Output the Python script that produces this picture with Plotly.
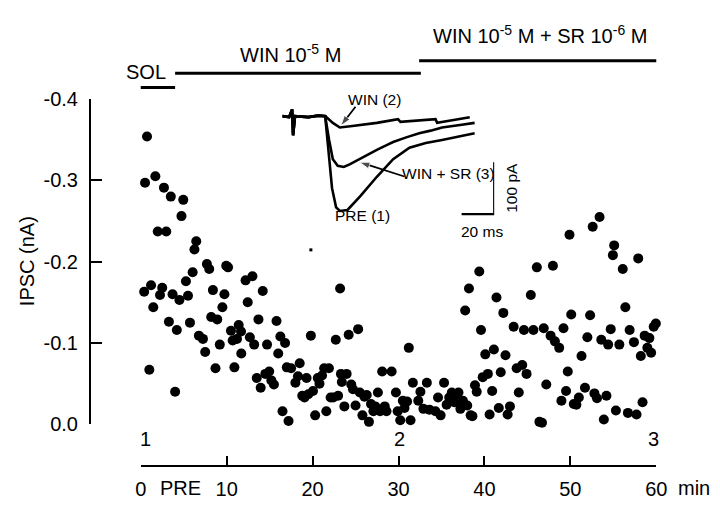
import plotly.graph_objects as go

# ---------------- data ----------------
time_min = [0.4,0.5,0.73,1.0,1.2,1.46,1.7,1.98,2.24,2.5,2.7,2.97,3.28,3.5,3.7,4.0,4.2,4.5,4.74,4.95,
            5.26,5.5,5.73,6.04,6.25,6.46,6.77,7.24,7.5,7.7,7.97,8.2,8.4,8.7,8.9,9.2,9.5,9.74,9.95,10.16,
            10.5,10.7,10.9,11.2,11.4,11.67,11.7,12.2,12.45,12.7,13.0,13.2,13.5,13.7,13.96,14.2,14.5,14.7,14.95,15.2,
            15.5,15.8,16.0,16.25,16.5,16.8,17.0,17.2,17.5,18.0,18.3,18.5,18.8,19.06,19.3,19.5,19.8,20.05,20.3,20.6,
            20.8,21.1,21.35,21.6,21.9,22.1,22.4,22.7,22.97,23.2,23.3,23.4,23.7,23.96,24.2,24.5,24.7,25.0,25.3,25.5,
            25.8,26.04,26.3,26.56,26.8,27.08,27.3,27.6,27.86,28.1,28.4,28.6,29.2,29.7,29.9,30.2,30.5,30.7,31.0,31.2,
            31.4,31.67,32.3,32.55,32.9,33.3,33.6,34.3,34.6,34.9,35.3,35.6,35.9,36.2,36.5,36.7,36.98,37.2,37.5,37.76,
            38.0,38.2,38.4,38.6,38.9,39.1,39.4,39.6,39.8,40.1,40.4,40.6,40.9,41.1,41.4,41.67,41.9,42.2,42.45,42.7,
            42.97,43.4,43.75,44.0,44.4,44.6,44.9,45.4,45.7,46.1,46.4,46.7,46.9,47.2,47.7,47.97,48.2,48.7,48.96,49.2,
            49.5,49.7,49.9,50.1,50.4,50.7,50.99,51.3,51.7,51.98,52.3,52.6,52.8,53.1,53.4,53.6,53.9,54.2,54.4,54.7,
            54.95,55.1,55.3,55.7,56.1,56.4,56.7,56.9,57.4,57.7,57.9,58.2,58.4,58.65,58.96,59.2,59.4,59.7,59.95]
ipsc_nA = [-0.163,-0.297,-0.354,-0.067,-0.171,-0.144,-0.305,-0.237,-0.159,-0.168,-0.291,-0.237,-0.126,-0.280,-0.160,-0.040,-0.116,-0.153,-0.256,-0.276,
           -0.176,-0.158,-0.125,-0.187,-0.215,-0.225,-0.109,-0.105,-0.089,-0.197,-0.191,-0.132,-0.165,-0.069,-0.129,-0.098,-0.144,-0.160,-0.195,-0.193,
           -0.115,-0.103,-0.070,-0.105,-0.122,-0.114,-0.087,-0.177,-0.150,-0.107,-0.182,-0.098,-0.057,-0.129,-0.045,-0.164,-0.062,-0.098,-0.065,-0.054,
           -0.049,-0.127,-0.087,-0.108,-0.016,-0.100,-0.070,-0.004,-0.069,-0.051,-0.059,-0.075,-0.035,-0.033,-0.057,-0.037,-0.109,-0.041,-0.011,-0.057,
           -0.050,-0.060,-0.069,-0.016,-0.069,-0.033,-0.033,-0.104,-0.035,-0.167,-0.062,-0.052,-0.022,-0.062,-0.110,-0.049,-0.043,-0.023,-0.117,-0.039,
           -0.011,-0.034,-0.036,-0.003,-0.025,-0.016,-0.022,-0.039,-0.016,-0.065,-0.022,-0.016,-0.065,-0.039,-0.016,-0.005,-0.029,-0.020,-0.028,-0.094,
           -0.005,-0.051,-0.029,-0.040,-0.019,-0.051,-0.018,-0.016,-0.033,-0.011,-0.051,-0.024,-0.033,-0.039,-0.027,-0.036,-0.039,-0.019,-0.029,-0.140,
           -0.023,-0.167,-0.011,-0.010,-0.048,-0.040,-0.188,-0.116,-0.058,-0.086,-0.062,-0.012,-0.041,-0.092,-0.156,-0.020,-0.064,-0.137,-0.085,-0.012,
           -0.022,-0.120,-0.069,-0.039,-0.073,-0.116,-0.062,-0.159,-0.116,-0.193,-0.003,-0.002,-0.118,-0.049,-0.109,-0.195,-0.102,-0.094,-0.029,-0.118,
           -0.041,-0.065,-0.233,-0.135,-0.025,-0.024,-0.033,-0.084,-0.045,-0.107,-0.134,-0.243,-0.038,-0.032,-0.255,-0.104,-0.006,-0.035,-0.098,-0.117,
           -0.208,-0.220,-0.017,-0.098,-0.191,-0.144,-0.014,-0.116,-0.101,-0.012,-0.204,-0.084,-0.027,-0.109,-0.094,-0.106,-0.088,-0.120,-0.124]
stray_time = [19.8]
stray_ipsc = [-0.2145]

x_tick_vals = [0, 10, 20, 30, 40, 50, 60]
x_tick_text = ["0", "10", "20", "30", "40", "50", "60"]
y_tick_vals = [0.0, -0.1, -0.2, -0.3, -0.4]
y_tick_text = ["0.0", "-0.1", "-0.2", "-0.3", "-0.4"]

# treatment bars (minutes)
bar_labels = ["SOL", "WIN 10<sup>-5</sup> M", "WIN 10<sup>-5</sup> M + SR 10<sup>-6</sup> M"]
bar_start = [-1.5, 4.0, 32.4]
bar_end = [4.0, 32.6, 60.6]

# sample markers
sample_labels = ["1", "2", "3"]
sample_time = [0.5, 30.1, 59.7]

# inset traces (ms, pA)
base_t = [0, 4.2, 6.0, 6.6, 7.8, 16, 22, 26.3]
base_i = [0, -2, 13, -37, 0, -2, 1, 0]
pre_t = base_t + [28, 30.5, 33, 35.3, 40, 48, 58, 68, 78, 88, 98, 109, 118]
pre_i = base_i + [-56, -139, -176, -183, -181, -154, -117, -83, -61, -52, -46, -39, -33]
winsr_t = base_t + [28.7, 31, 34, 37.7, 41.3, 46, 52, 58, 64, 68, 76, 84, 91, 98, 109, 118]
winsr_i = base_i + [-46, -83, -96, -98, -93, -85, -74, -65, -56, -50, -41, -33, -28, -22, -17, -13]
win_t = base_t + [31, 35.3, 43, 58, 71, 72.5, 94, 95, 106, 115]
win_i = base_i + [-13, -22, -19, -13, -6, -11, -6, -13, -7, -2]
scale_t = [110, 130, 130]
scale_i = [-189, -189, -89]
# label arrows (tail -> head), inset coordinates
arrow_win_t = [44.9, 35.9]
arrow_win_i = [18.2, -18.7]
arrow_winsr_t = [74.9, 47.3]
arrow_winsr_i = [-116.5, -88.8]

# ---------------- layout helpers ----------------
W, H = 720, 508
def fx(px):
    return px / W
def fy(py):
    return 1 - py / H

FONT = "Arial, Liberation Sans, sans-serif"
MAIN = 20
SMALL = 15.5

fig = go.Figure()
fig.add_trace(go.Scatter(x=time_min, y=ipsc_nA, mode="markers",
                         marker=dict(color="black", size=10), cliponaxis=False,
                         xaxis="x", yaxis="y", showlegend=False))
fig.add_trace(go.Scatter(x=stray_time, y=stray_ipsc, mode="markers",
                         marker=dict(color="black", size=3, symbol="square"), cliponaxis=False,
                         xaxis="x", yaxis="y", showlegend=False))
for t, i in [(win_t, win_i), (winsr_t, winsr_i), (pre_t, pre_i)]:
    fig.add_trace(go.Scatter(x=t, y=i, mode="lines", line=dict(color="black", width=2.6),
                             xaxis="x2", yaxis="y2", showlegend=False, cliponaxis=False))
fig.add_trace(go.Scatter(x=scale_t, y=scale_i, mode="lines", line=dict(color="black", width=2.2),
                         xaxis="x2", yaxis="y2", showlegend=False, cliponaxis=False))
for t, i in [(arrow_win_t, arrow_win_i), (arrow_winsr_t, arrow_winsr_i)]:
    fig.add_trace(go.Scatter(x=t, y=i, mode="lines+markers", line=dict(color="black", width=1.8),
                             marker=dict(symbol="arrow", angleref="previous", size=[0, 11], color="black"),
                             xaxis="x2", yaxis="y2", showlegend=False, cliponaxis=False))

shapes = []
bar_y_px = [80, 65, 52]
for s, e, yp in zip(bar_start, bar_end, bar_y_px):
    shapes.append(dict(type="line", xref="x", yref="paper", x0=s, x1=e, y0=fy(yp), y1=fy(yp),
                       line=dict(color="black", width=3)))

annotations = []
def label(text, px, py, size=MAIN, angle=0, xanchor="center"):
    annotations.append(dict(text=text, xref="paper", yref="paper", x=fx(px), y=fy(py),
                            xanchor=xanchor, yanchor="middle", textangle=angle, showarrow=False,
                            font=dict(size=size, family=FONT, color="black")))

bar_text_pos = [(143, 64), (291, 44), (547, 25)]
for lab, (px, py) in zip(bar_labels, bar_text_pos):
    label(lab, px, py)
for lab, t in zip(sample_labels, sample_time):
    annotations.append(dict(text=lab, xref="x", yref="paper", x=t, y=fy(447),
                            xanchor="center", yanchor="middle", showarrow=False,
                            font=dict(size=MAIN, family=FONT, color="black")))
label("PRE", 179, 499)
label("min", 686, 499, xanchor="left")
label("IPSC (nA)", 21, 262, angle=-90)
# inset labels
label("WIN (2)", 377, 93, size=SMALL)
label("WIN + SR (3)", 453, 170, size=SMALL)
label("PRE (1)", 365, 214, size=SMALL)
label("100 pA", 518, 185, size=SMALL, angle=-90)
label("20 ms", 488, 230, size=SMALL)

fig.update_layout(
    width=W, height=H, margin=dict(l=0, r=0, t=0, b=0),
    paper_bgcolor="white", plot_bgcolor="rgba(0,0,0,0)",
    font=dict(family=FONT, size=MAIN, color="black"),
    xaxis=dict(domain=[fx(138), fx(666)], range=[0, 60], anchor="free", position=fy(476),
               showline=True, linecolor="black", linewidth=2, ticks="inside", ticklen=9, tickwidth=2,
               tickcolor="black", tickvals=x_tick_vals, ticktext=x_tick_text, ticklabelstandoff=5,
               showgrid=False, zeroline=False, tickfont=dict(size=MAIN)),
    yaxis=dict(domain=[fy(432), fy(92)], range=[0, -0.4], anchor="free", position=fx(86),
               showline=True, linecolor="black", linewidth=2, ticks="inside", ticklen=11, tickwidth=2,
               tickcolor="black", tickvals=y_tick_vals, ticktext=y_tick_text, ticklabelstandoff=7,
               showgrid=False, zeroline=False, tickfont=dict(size=MAIN)),
    xaxis2=dict(domain=[fx(283), fx(500)], range=[0, 130], anchor="y2", visible=False),
    yaxis2=dict(domain=[fy(215), fy(92)], range=[-194, 33], anchor="x2", visible=False),
    shapes=shapes, annotations=annotations,
)
fig.write_html("out.html", config={"displayModeBar": False},
               post_script="document.body.style.margin='0px';document.body.style.overflow='hidden';")
